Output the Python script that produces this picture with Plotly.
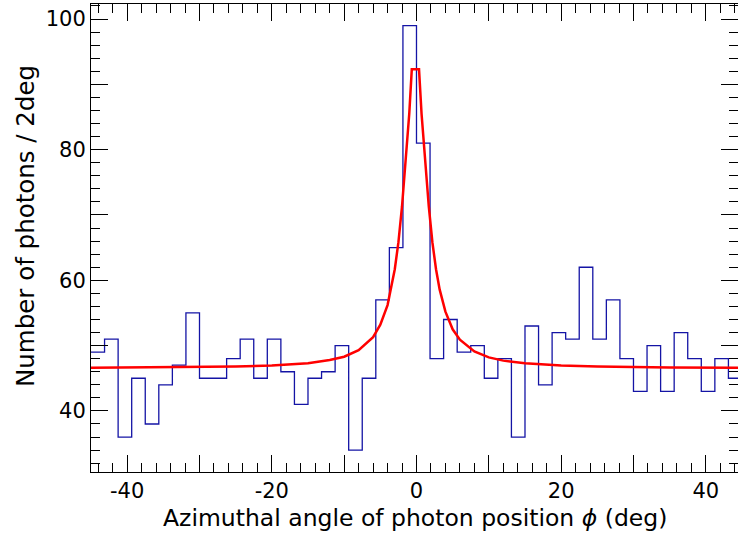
import numpy as np
import plotly.graph_objects as go

# photon counts per bin (bin width ~1.875 deg, from -45)
counts = [49, 51, 36, 45, 38, 44, 47, 55, 45, 45, 48, 51,
          45, 51, 46, 41, 45, 46, 50, 34, 45, 57, 65, 99,
          81, 48, 54, 49, 50, 45, 48, 36, 53, 44, 52, 51,
          62, 51, 57, 48, 43, 50, 43, 52, 48, 43, 48, 45]
bin_lo = -45.0
bin_w = 1.875

# fitted curve (red)
fit_x = [-45, -35, -25, -20, -15, -12, -10, -8, -6, -5, -4, -3, -2.5, -2, -1.5, -1,
         -0.65, 0.35, 0.7, 1.2, 1.7, 2.2, 2.7, 3.2, 4, 5, 6, 8, 10, 12, 15, 20, 25, 35, 45]
fit_y = [46.6, 46.65, 46.8, 46.95, 47.3, 47.8, 48.3, 49.3, 51.3, 53.2, 56.2, 61.7, 65.8, 71.3, 78.1, 85.5,
         92.3, 92.3, 85.5, 78.1, 71.3, 65.8, 61.7, 58.6, 55.2, 52.5, 50.9, 49.1, 48.2, 47.7, 47.3, 46.95, 46.8, 46.65, 46.6]

x_ticks = [-40, -30, -20, -10, 0, 10, 20, 30, 40]
x_labels = ["-40", "", "-20", "", "0", "", "20", "", "40"]
y_ticks = [40, 50, 60, 70, 80, 90, 100]
y_labels = ["40", "", "60", "", "80", "", "100"]

edges = bin_lo + bin_w * np.arange(len(counts) + 1)
steps = counts + [counts[-1]]

font = "DejaVu Sans"

fig = go.Figure()
fig.add_trace(go.Scatter(x=edges, y=steps, mode="lines", line_shape="hv",
                         line=dict(color="rgb(20,20,165)", width=1.3)))
fig.add_trace(go.Scatter(x=fit_x, y=fit_y, mode="lines",
                         line=dict(color="red", width=2.5)))

axis_common = dict(showline=True, linecolor="black", linewidth=1, mirror="ticks",
                   ticks="inside", ticklen=17, tickcolor="black", tickwidth=1,
                   showgrid=False, zeroline=False, automargin=False,
                   tickfont=dict(family=font, size=21, color="black"),
                   minor=dict(ticks="inside", ticklen=9, tickcolor="black", tickwidth=1, showgrid=False))

fig.update_xaxes(range=[-45, 44.45], tickmode="array", tickvals=x_ticks, ticktext=x_labels,
                 minor_dtick=2, minor_tick0=0, **axis_common)
fig.update_yaxes(range=[30.65, 102.3], tickmode="array", tickvals=y_ticks, ticktext=y_labels,
                 minor_dtick=2, minor_tick0=0, **axis_common)

# axis titles as annotations so they can sit where the reference has them
fig.add_annotation(text="Azimuthal angle of photon position <i>ϕ</i> (deg)",
                   xref="paper", yref="paper", x=0.5003, y=-0.098,
                   xanchor="center", yanchor="middle", showarrow=False,
                   font=dict(family=font, size=23.5, color="black"))
fig.add_annotation(text="Number of photons / 2deg", textangle=-90,
                   xref="paper", yref="paper", x=-0.102, y=0.5256,
                   xanchor="center", yanchor="middle", showarrow=False,
                   font=dict(family=font, size=24.5, color="black"))

fig.update_layout(width=738, height=536, autosize=False, showlegend=False,
                  margin=dict(l=91, r=0, t=4, b=64, pad=0),
                  plot_bgcolor="white", paper_bgcolor="white")

# drop the default page margin so the figure sits at the window's corner
fig.write_html("out.html", config={"displayModeBar": False},
               post_script="document.body.style.margin='0';")
